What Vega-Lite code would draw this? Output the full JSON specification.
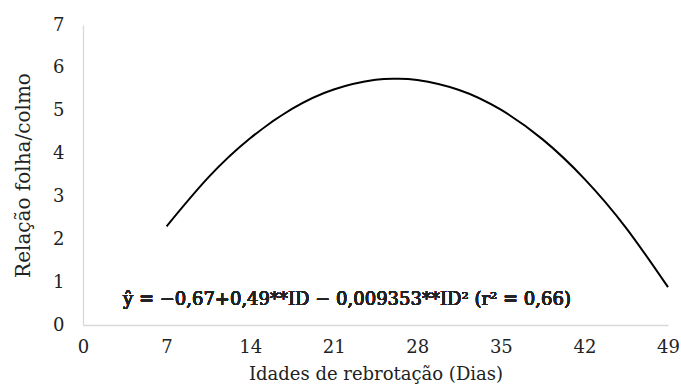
{
  "$schema": "https://vega.github.io/schema/vega-lite/v6.json",
  "autosize": "none",
  "width": 585,
  "height": 300,
  "padding": {"left": 83, "top": 25, "right": 13, "bottom": 60},
  "background": "white",
  "config": {
    "view": {"stroke": null},
    "font": "DejaVu Serif"
  },
  "data": {
    "values": [
      {"dias": 7, "relacao": 2.302},
      {"dias": 10.5, "relacao": 3.444},
      {"dias": 14, "relacao": 4.357},
      {"dias": 17.5, "relacao": 5.041},
      {"dias": 21, "relacao": 5.495},
      {"dias": 24.5, "relacao": 5.721},
      {"dias": 26.25, "relacao": 5.748},
      {"dias": 28, "relacao": 5.717},
      {"dias": 31.5, "relacao": 5.485},
      {"dias": 35, "relacao": 5.023},
      {"dias": 38.5, "relacao": 4.331},
      {"dias": 42, "relacao": 3.411},
      {"dias": 45.5, "relacao": 2.262},
      {"dias": 49, "relacao": 0.883}
    ]
  },
  "layer": [
    {
      "mark": {"type": "line", "color": "black", "strokeWidth": 2, "interpolate": "natural"},
      "encoding": {
        "x": {
          "field": "dias", "type": "quantitative",
          "scale": {"domain": [0, 49], "nice": false},
          "axis": {
            "title": "Idades de rebrotação (Dias)",
            "values": [0, 7, 14, 21, 28, 35, 42, 49],
            "grid": false, "ticks": false,
            "domainColor": "#d9d9d9", "domainWidth": 1.3,
            "labelFont": "DejaVu Serif", "labelFontSize": 18, "labelColor": "#222",
            "labelPadding": 13, "labelFlush": false,
            "titleFont": "DejaVu Serif", "titleFontSize": 18, "titleFontWeight": "normal", "titleColor": "#222",
            "titlePadding": 9
          }
        },
        "y": {
          "field": "relacao", "type": "quantitative",
          "scale": {"domain": [0, 7], "nice": false},
          "axis": {
            "title": "Relação folha/colmo",
            "values": [0, 1, 2, 3, 4, 5, 6, 7],
            "grid": false, "ticks": false,
            "domainColor": "#d9d9d9", "domainWidth": 1.3,
            "labelFont": "DejaVu Serif", "labelFontSize": 18, "labelColor": "#222",
            "labelPadding": 19, "labelFlush": false,
            "titleFont": "DejaVu Serif", "titleFontSize": 20, "titleFontWeight": "normal", "titleColor": "#222",
            "titlePadding": 19
          }
        }
      }
    },
    {
      "mark": {"type": "text", "align": "left", "baseline": "alphabetic", "font": "DejaVu Serif", "fontWeight": "normal", "fontSize": 18, "color": "#222"},
      "encoding": {
        "x": {"datum": 3.35},
        "y": {"datum": 0.47},
        "text": {"value": "ŷ = −0,67+0,49**ID − 0,009353**ID² (r² = 0,66)"}
      }
    }
  ]
}
